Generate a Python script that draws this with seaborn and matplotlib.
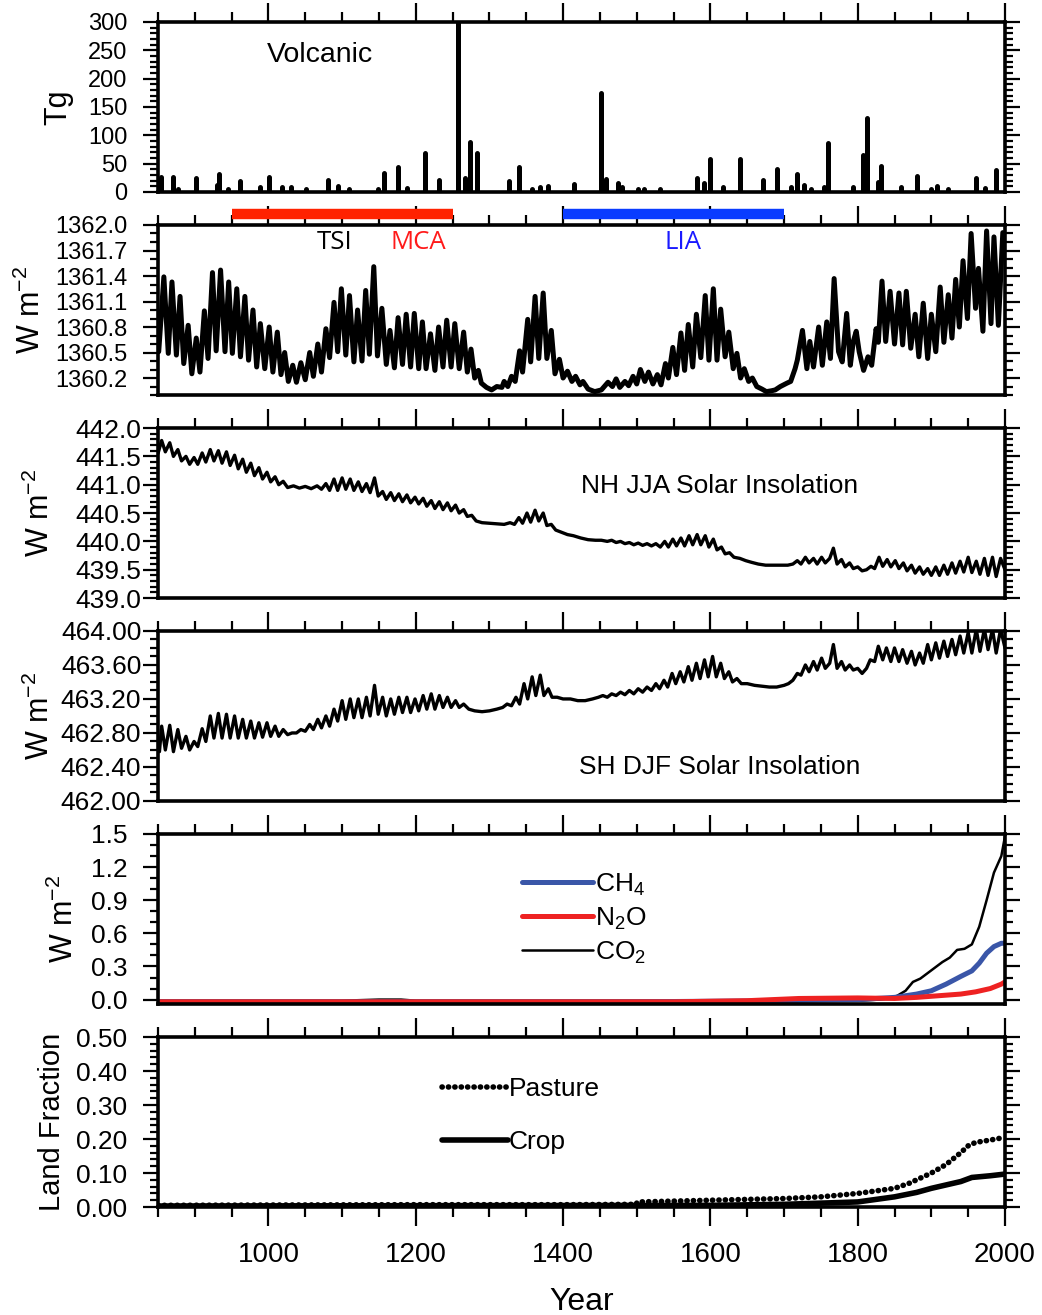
import numpy as np
import pandas as pd
import seaborn as sns
import matplotlib
matplotlib.use("Agg")
import matplotlib.pyplot as plt
from matplotlib.ticker import MultipleLocator, FixedLocator, FormatStrFormatter
from matplotlib.font_manager import FontProperties

# ---------------- data ----------------
volc_year = [854, 871, 877, 902, 930, 933, 945, 962, 988, 1001, 1018, 1030, 1051, 1081, 1094,
             1110, 1149, 1157, 1176, 1188, 1213, 1232, 1257, 1267, 1274, 1283, 1327, 1340, 1358,
             1369, 1380, 1415, 1451, 1458, 1475, 1480, 1502, 1510, 1532, 1582, 1591, 1599, 1617,
             1640, 1671, 1691, 1709, 1717, 1727, 1736, 1754, 1760, 1793, 1807, 1813, 1827, 1832,
             1859, 1881, 1900, 1908, 1922, 1960, 1973, 1988]
volc_tg = [27, 27, 6, 25, 12, 32, 5, 20, 9, 26, 9, 8, 5, 22, 10,
           6, 5, 33, 44, 7, 68, 22, 310, 24, 89, 68, 19, 44, 5,
           8, 10, 14, 175, 23, 15, 8, 5, 5, 6, 24, 15, 59, 9,
           58, 22, 40, 8, 31, 12, 6, 9, 87, 8, 65, 130, 18, 46,
           8, 28, 6, 10, 6, 24, 7, 38]

tsi_year = [851, 858, 864, 869, 875, 880, 885, 891, 896, 902, 907, 913, 918, 924, 929, 935, 941,
            946, 951, 957, 962, 968, 973, 979, 984, 989, 995, 1001, 1006, 1012, 1017, 1022, 1027,
            1033, 1038, 1044, 1050, 1056, 1061, 1067, 1072, 1078, 1083, 1089, 1094, 1099, 1105,
            1110, 1116, 1121, 1127, 1132, 1137, 1143, 1148, 1154, 1160, 1165, 1171, 1176, 1182,
            1187, 1193, 1198, 1204, 1209, 1214, 1220, 1226, 1231, 1237, 1242, 1248, 1253, 1259,
            1265, 1270, 1275, 1280, 1285, 1289, 1296, 1303, 1310, 1317, 1320, 1325, 1330, 1335,
            1341, 1345, 1352, 1356, 1362, 1367, 1373, 1378, 1384, 1389, 1395, 1400, 1406, 1412,
            1417, 1423, 1427, 1434, 1443, 1452, 1461, 1467, 1472, 1477, 1484, 1489, 1495, 1500,
            1505, 1511, 1516, 1522, 1528, 1533, 1539, 1543, 1549, 1554, 1560, 1565, 1570, 1576,
            1581, 1587, 1593, 1598, 1604, 1609, 1614, 1620, 1625, 1631, 1636, 1641, 1646, 1652,
            1657, 1663, 1670, 1676, 1683, 1688, 1695, 1704, 1709, 1715, 1718, 1725, 1731, 1735,
            1740, 1747, 1752, 1758, 1763, 1768, 1774, 1779, 1785, 1790, 1794, 1798, 1802, 1808,
            1814, 1819, 1825, 1828, 1833, 1838, 1844, 1850, 1856, 1861, 1866, 1872, 1878, 1883,
            1889, 1895, 1900, 1906, 1912, 1917, 1923, 1928, 1933, 1938, 1943, 1949, 1954, 1960,
            1964, 1970, 1975, 1981, 1985, 1991, 1997, 2000]
tsi_val = [1360.51, 1361.39, 1360.49, 1361.33, 1360.47, 1361.16, 1360.37, 1360.82, 1360.25,
           1360.67, 1360.27, 1360.99, 1360.43, 1361.44, 1360.52, 1361.47, 1360.51, 1361.33,
           1360.49, 1361.25, 1360.45, 1361.16, 1360.41, 1361.00, 1360.33, 1360.84, 1360.31,
           1360.80, 1360.27, 1360.74, 1360.24, 1360.50, 1360.16, 1360.35, 1360.15, 1360.38,
           1360.18, 1360.50, 1360.22, 1360.60, 1360.27, 1360.78, 1360.44, 1361.09, 1360.51,
           1361.25, 1360.47, 1361.17, 1360.39, 1361.00, 1360.40, 1361.23, 1360.48, 1361.51,
           1360.46, 1361.02, 1360.36, 1360.76, 1360.32, 1360.91, 1360.36, 1360.95, 1360.33,
           1360.96, 1360.31, 1360.86, 1360.31, 1360.72, 1360.29, 1360.80, 1360.33, 1360.88,
           1360.33, 1360.84, 1360.31, 1360.74, 1360.27, 1360.54, 1360.20, 1360.29, 1360.14,
           1360.09, 1360.06, 1360.10, 1360.09, 1360.16, 1360.10, 1360.22, 1360.16, 1360.52,
           1360.27, 1360.89, 1360.39, 1361.16, 1360.43, 1361.20, 1360.43, 1360.76, 1360.25,
           1360.42, 1360.20, 1360.28, 1360.16, 1360.22, 1360.12, 1360.16, 1360.07, 1360.04,
           1360.06, 1360.15, 1360.10, 1360.19, 1360.09, 1360.16, 1360.11, 1360.22, 1360.13,
           1360.30, 1360.16, 1360.27, 1360.13, 1360.24, 1360.12, 1360.37, 1360.20, 1360.56,
           1360.24, 1360.73, 1360.29, 1360.83, 1360.33, 1360.95, 1360.44, 1361.17, 1360.41,
           1361.25, 1360.41, 1361.01, 1360.45, 1360.74, 1360.31, 1360.49, 1360.20, 1360.31,
           1360.16, 1360.20, 1360.10, 1360.07, 1360.04, 1360.05, 1360.06, 1360.10, 1360.14,
           1360.16, 1360.31, 1360.41, 1360.76, 1360.31, 1360.63, 1360.33, 1360.80, 1360.35,
           1360.86, 1360.43, 1361.37, 1360.51, 1360.39, 1360.96, 1360.35, 1360.63, 1360.75,
           1360.51, 1360.29, 1360.45, 1360.35, 1360.78, 1360.62, 1361.34, 1360.63, 1361.22,
           1360.60, 1361.20, 1360.59, 1361.22, 1360.55, 1360.95, 1360.45, 1361.08, 1360.43,
           1360.95, 1360.51, 1361.27, 1360.62, 1361.18, 1360.67, 1361.36, 1360.80, 1361.58,
           1360.90, 1361.90, 1361.02, 1361.49, 1360.75, 1361.93, 1360.84, 1361.86, 1360.82,
           1361.91, 1361.90]

nh_year = [850, 855, 860, 866, 871, 877, 882, 888, 893, 899, 904, 910, 915, 921, 926, 932, 937,
           943, 948, 954, 959, 965, 970, 976, 981, 987, 992, 998, 1003, 1009, 1014, 1020, 1026,
           1034, 1042, 1050, 1058, 1066, 1072, 1078, 1083, 1089, 1094, 1100, 1105, 1111, 1116,
           1122, 1127, 1133, 1138, 1144, 1149, 1155, 1160, 1166, 1171, 1177, 1182, 1188, 1193,
           1199, 1204, 1210, 1215, 1221, 1226, 1232, 1237, 1243, 1248, 1254, 1259, 1265, 1270,
           1276, 1282, 1290, 1300, 1310, 1320, 1328, 1334, 1340, 1345, 1351, 1356, 1362, 1367,
           1373, 1378, 1384, 1390, 1398, 1406, 1414, 1424, 1434, 1444, 1452, 1460, 1466, 1472,
           1478, 1484, 1490, 1496, 1502, 1508, 1514, 1520, 1526, 1532, 1538, 1543, 1549, 1554,
           1560, 1565, 1571, 1576, 1582, 1587, 1593, 1598, 1604, 1609, 1615, 1620, 1626, 1632,
           1640, 1648, 1656, 1665, 1675, 1685, 1695, 1705, 1712, 1718, 1723, 1729, 1734, 1740,
           1745, 1751, 1756, 1762, 1767, 1772, 1778, 1783, 1789, 1794, 1800, 1806, 1812, 1818,
           1823, 1829, 1834, 1840, 1845, 1851, 1856, 1862, 1867, 1873, 1878, 1884, 1889, 1895,
           1900, 1906, 1911, 1917, 1922, 1928, 1933, 1939, 1944, 1950, 1955, 1961, 1966, 1972,
           1977, 1983, 1988, 1994, 2000]
nh_val = [441.55, 441.78, 441.58, 441.74, 441.50, 441.62, 441.42, 441.50, 441.36, 441.48, 441.36,
          441.56, 441.40, 441.62, 441.42, 441.60, 441.38, 441.58, 441.34, 441.52, 441.28, 441.45,
          441.22, 441.38, 441.16, 441.30, 441.10, 441.22, 441.05, 441.14, 441.00, 441.06, 440.95,
          440.98, 440.94, 440.97, 440.93, 440.98, 440.92, 441.02, 440.90, 441.10, 440.90, 441.12,
          440.92, 441.10, 440.90, 441.05, 440.88, 441.02, 440.86, 441.12, 440.80, 440.88, 440.74,
          440.86, 440.72, 440.84, 440.70, 440.82, 440.68, 440.78, 440.66, 440.76, 440.62, 440.72,
          440.58, 440.70, 440.56, 440.68, 440.54, 440.64, 440.50, 440.56, 440.44, 440.46, 440.36,
          440.33, 440.32, 440.31, 440.30, 440.33, 440.30, 440.42, 440.32, 440.50, 440.34, 440.55,
          440.36, 440.50, 440.28, 440.30, 440.20, 440.16, 440.12, 440.10, 440.06, 440.03, 440.02,
          440.02, 440.00, 440.02, 439.98, 440.00, 439.96, 439.98, 439.94, 439.97, 439.93, 439.96,
          439.92, 439.96, 439.90, 440.00, 439.90, 440.04, 439.92, 440.06, 439.92, 440.10, 439.94,
          440.12, 439.94, 440.10, 439.90, 440.04, 439.85, 439.90, 439.78, 439.80, 439.72, 439.70,
          439.66, 439.63, 439.60, 439.58, 439.58, 439.58, 439.58, 439.60, 439.66, 439.60, 439.72,
          439.62, 439.70, 439.60, 439.72, 439.62, 439.70, 439.88, 439.60, 439.68, 439.55, 439.62,
          439.52, 439.55, 439.48, 439.50, 439.56, 439.52, 439.72, 439.56, 439.68, 439.55, 439.66,
          439.52, 439.62, 439.48, 439.58, 439.44, 439.55, 439.42, 439.52, 439.40, 439.55, 439.40,
          439.58, 439.42, 439.62, 439.44, 439.65, 439.46, 439.72, 439.45, 439.65, 439.42, 439.70,
          439.40, 439.72, 439.38, 439.70, 439.50]

sh_year = [850, 852, 855, 860, 866, 871, 877, 882, 888, 893, 899, 904, 910, 915, 921, 926, 932,
           937, 943, 948, 954, 959, 965, 970, 976, 981, 987, 992, 998, 1003, 1009, 1014, 1020,
           1026, 1032, 1038, 1044, 1050, 1056, 1061, 1067, 1072, 1078, 1083, 1089, 1094, 1100,
           1105, 1111, 1116, 1122, 1127, 1133, 1138, 1144, 1149, 1155, 1160, 1166, 1171, 1177,
           1182, 1188, 1193, 1199, 1204, 1210, 1215, 1221, 1226, 1232, 1237, 1243, 1248, 1254,
           1259, 1265, 1272, 1280, 1290, 1300, 1310, 1318, 1324, 1330, 1336, 1341, 1347, 1352,
           1358, 1363, 1369, 1374, 1380, 1385, 1392, 1400, 1410, 1420, 1430, 1440, 1448, 1454,
           1460, 1466, 1472, 1478, 1484, 1490, 1496, 1502, 1508, 1514, 1520, 1526, 1531, 1537,
           1542, 1548, 1553, 1559, 1564, 1570, 1575, 1581, 1586, 1592, 1597, 1603, 1608, 1614,
           1619, 1625, 1630, 1636, 1642, 1650, 1660, 1670, 1680, 1690, 1700, 1706, 1712, 1718,
           1723, 1729, 1734, 1740, 1745, 1751, 1756, 1762, 1767, 1772, 1778, 1783, 1789, 1794,
           1800, 1806, 1812, 1817, 1823, 1828, 1834, 1839, 1845, 1850, 1856, 1861, 1867, 1873,
           1878, 1884, 1889, 1895, 1900, 1906, 1911, 1917, 1922, 1928, 1933, 1939, 1944, 1950,
           1955, 1961, 1966, 1972, 1977, 1983, 1988, 1994, 2000]
sh_val = [462.60, 462.58, 462.88, 462.60, 462.89, 462.58, 462.84, 462.62, 462.76, 462.60, 462.70,
          462.64, 462.85, 462.70, 463.00, 462.74, 463.03, 462.74, 463.02, 462.74, 463.00, 462.74,
          462.96, 462.74, 462.94, 462.74, 462.92, 462.75, 462.92, 462.76, 462.88, 462.76, 462.84,
          462.78, 462.80, 462.80, 462.84, 462.82, 462.90, 462.84, 462.96, 462.86, 463.00, 462.88,
          463.08, 462.94, 463.18, 462.96, 463.20, 462.98, 463.20, 462.98, 463.22, 463.00, 463.36,
          463.02, 463.22, 463.00, 463.20, 463.02, 463.22, 463.04, 463.22, 463.04, 463.20, 463.06,
          463.24, 463.08, 463.26, 463.08, 463.24, 463.10, 463.22, 463.10, 463.18, 463.10, 463.14,
          463.08, 463.06, 463.05, 463.06, 463.08, 463.10, 463.14, 463.12, 463.22, 463.14, 463.38,
          463.20, 463.46, 463.24, 463.48, 463.24, 463.32, 463.22, 463.22, 463.20, 463.20, 463.18,
          463.18, 463.20, 463.22, 463.24, 463.22, 463.26, 463.24, 463.28, 463.25, 463.30, 463.26,
          463.32, 463.28, 463.34, 463.30, 463.38, 463.32, 463.42, 463.34, 463.50, 463.38, 463.52,
          463.40, 463.58, 463.42, 463.62, 463.44, 463.66, 463.46, 463.70, 463.46, 463.62, 463.44,
          463.52, 463.40, 463.44, 463.38, 463.38, 463.36, 463.35, 463.34, 463.34, 463.36, 463.38,
          463.42, 463.50, 463.48, 463.60, 463.52, 463.64, 463.54, 463.68, 463.56, 463.62, 463.84,
          463.56, 463.64, 463.54, 463.60, 463.54, 463.56, 463.50, 463.56, 463.66, 463.64, 463.82,
          463.66, 463.80, 463.64, 463.80, 463.64, 463.78, 463.62, 463.76, 463.60, 463.74, 463.62,
          463.84, 463.66, 463.86, 463.68, 463.88, 463.70, 463.90, 463.72, 463.94, 463.74, 463.98,
          463.74, 464.02, 463.76, 464.02, 463.78, 464.02, 463.74, 464.02, 463.80]

co2_year = [850, 1100, 1150, 1180, 1200, 1400, 1600, 1800, 1830, 1850, 1865, 1875, 1885, 1895,
            1905, 1915, 1925, 1935, 1945, 1955, 1965, 1975, 1985, 1995, 2000]
co2_val = [-0.01, -0.01, 0.0, 0.0, -0.01, -0.01, -0.01, -0.01, 0.0, 0.02, 0.08, 0.16, 0.19, 0.24,
           0.29, 0.34, 0.38, 0.45, 0.46, 0.50, 0.66, 0.90, 1.15, 1.30, 1.48]
ch4_year = [850, 1500, 1700, 1800, 1850, 1880, 1900, 1920, 1940, 1955, 1965, 1975, 1985, 1995, 2000]
ch4_val = [-0.02, -0.02, -0.01, 0.0, 0.02, 0.05, 0.08, 0.14, 0.21, 0.26, 0.33, 0.42, 0.48, 0.51, 0.51]
n2o_year = [850, 1550, 1650, 1720, 1800, 1850, 1880, 1910, 1940, 1960, 1980, 1995, 2000]
n2o_val = [-0.02, -0.02, -0.01, 0.01, 0.015, 0.01, 0.02, 0.035, 0.05, 0.07, 0.10, 0.14, 0.16]

pasture_year = [850, 1000, 1200, 1400, 1499, 1501, 1600, 1700, 1750, 1800, 1850, 1870, 1885,
                1900, 1920, 1940, 1950, 1960, 1980, 2000]
pasture_val = [0.005, 0.006, 0.007, 0.007, 0.008, 0.015, 0.02, 0.025, 0.03, 0.04, 0.055, 0.07,
               0.085, 0.10, 0.125, 0.16, 0.18, 0.19, 0.197, 0.205]
crop_year = [850, 1200, 1600, 1700, 1800, 1850, 1880, 1900, 1920, 1940, 1955, 1980, 2000]
crop_val = [0.003, 0.004, 0.005, 0.008, 0.015, 0.03, 0.043, 0.055, 0.065, 0.075, 0.087, 0.092, 0.097]

mca_span = [950, 1250]
lia_span = [1400, 1700]

ticks_tsi = [1360.2, 1360.5, 1360.8, 1361.1, 1361.4, 1361.7, 1362.0]
ticks_year = [1000, 1200, 1400, 1600, 1800, 2000]

# ---------------- style ----------------
sns.set_style("ticks")
plt.rcParams["font.family"] = ["Liberation Sans", "DejaVu Sans"]
plt.rcParams["mathtext.default"] = "regular"
for k in ["text.color", "axes.labelcolor", "xtick.color", "ytick.color", "axes.edgecolor"]:
    plt.rcParams[k] = "black"
narrow = ["Liberation Sans Narrow", "Liberation Sans", "DejaVu Sans"]
label_font = ["Open Sans", "Liberation Sans"]

fig = plt.figure(figsize=(10.42, 13.15), dpi=100)
bottoms = [0.854, 0.6996, 0.5452, 0.3909, 0.2365, 0.0821]
axes = [fig.add_axes([0.1516, b, 0.8129, 0.1293]) for b in bottoms]


def frame(ax, ylim, major, minor, fmt, pad, lab_font, labsize):
    ax.set_xlim(850, 2000)
    ax.set_ylim(*ylim)
    ax.xaxis.set_major_locator(FixedLocator(ticks_year))
    ax.xaxis.set_minor_locator(MultipleLocator(50))
    if isinstance(major, list):
        ax.yaxis.set_major_locator(FixedLocator(major))
    else:
        ax.yaxis.set_major_locator(MultipleLocator(major))
    ax.yaxis.set_minor_locator(MultipleLocator(minor))
    ax.yaxis.set_major_formatter(FormatStrFormatter(fmt))
    ax.tick_params(axis="x", which="both", direction="out", top=True, bottom=False,
                   labelbottom=False, width=1.6)
    ax.tick_params(axis="x", which="major", length=14)
    ax.tick_params(axis="x", which="minor", length=7)
    ax.tick_params(axis="y", which="both", direction="out", left=True, right=True, width=1.6)
    ax.tick_params(axis="y", which="major", length=11, pad=pad)
    ax.tick_params(axis="y", which="minor", length=5.5)
    for t in ax.get_yticklabels():
        t.set_fontfamily(lab_font)
        t.set_fontsize(labsize)
    for s in ax.spines.values():
        s.set_linewidth(2.6)
        s.set_visible(True)
    ax.set_xlabel("")


# panel 1: volcanic
ax = axes[0]
ax.vlines(volc_year, 0, volc_tg, color="black", lw=3.6, capstyle="round")
frame(ax, (0, 300), 50, 10, "%d", 11, ["Liberation Sans"], 17)
ax.text(1070, 242, "Volcanic", fontsize=20.5, ha="center", va="center")
ax.set_ylabel("Tg", fontsize=22)
ax.yaxis.set_label_coords(-0.10, 0.5)

# panel 2: TSI
ax = axes[1]
sns.lineplot(x=tsi_year, y=tsi_val, ax=ax, color="black", lw=3.6, sort=False,
             solid_joinstyle="round")
frame(ax, (1360.0, 1362.0), ticks_tsi, 0.1, "%.1f", 11, ["Liberation Sans"], 17)
ax.plot(mca_span, [1362.13, 1362.13], color="#ff2200", lw=7.5, solid_capstyle="butt", clip_on=False)
ax.plot(lia_span, [1362.13, 1362.13], color="#0a3cff", lw=7.5, solid_capstyle="butt", clip_on=False)
ax.text(1090, 1361.79, "TSI", fontsize=18.5, ha="center", va="center", family=label_font)
ax.text(1203, 1361.79, "MCA", fontsize=18.5, ha="center", va="center", color="#ff1a1a",
        family=label_font)
ax.text(1563, 1361.79, "LIA", fontsize=18.5, ha="center", va="center", color="#1a1aff",
        family=label_font)
ax.set_ylabel("W m$^{-2}$", fontsize=22)
ax.yaxis.set_label_coords(-0.131, 0.5)

# panel 3: NH JJA insolation
ax = axes[2]
sns.lineplot(x=nh_year, y=nh_val, ax=ax, color="black", lw=2.4, sort=False)
frame(ax, (439.0, 442.0), 0.5, 0.1, "%.1f", 1, narrow, 19)
ax.text(1613, 440.98, "NH JJA Solar Insolation", fontsize=19, ha="center", va="center",
        family=narrow)
ax.set_ylabel("W m$^{-2}$", fontsize=22)
ax.yaxis.set_label_coords(-0.12, 0.5)

# panel 4: SH DJF insolation
ax = axes[3]
sns.lineplot(x=sh_year, y=sh_val, ax=ax, color="black", lw=2.4, sort=False)
frame(ax, (462.0, 464.0), 0.4, 0.1, "%.2f", 1, narrow, 19)
ax.text(1613, 462.4, "SH DJF Solar Insolation", fontsize=19, ha="center", va="center",
        family=narrow)
ax.set_ylabel("W m$^{-2}$", fontsize=22)
ax.yaxis.set_label_coords(-0.12, 0.5)

# panel 5: greenhouse gases
ax = axes[4]
sns.lineplot(x=co2_year, y=co2_val, ax=ax, color="black", lw=1.8, label="CO$_2$")
sns.lineplot(x=ch4_year, y=ch4_val, ax=ax, color="#3a56a8", lw=3.6, label="CH$_4$")
sns.lineplot(x=n2o_year, y=n2o_val, ax=ax, color="#ee2222", lw=3.6, label="N$_2$O")
frame(ax, (-0.04, 1.5), 0.3, 0.1, "%.1f", 11, narrow, 19)
h = ax.get_legend_handles_labels()[0]
ax.legend(handles=[h[1], h[2], h[0]], loc="upper left", bbox_to_anchor=(0.43, 0.78),
          frameon=False, handlelength=2.7, handletextpad=0.05, labelspacing=0.3,
          borderpad=0, borderaxespad=0, prop=FontProperties(family=narrow, size=19))
ax.set_ylabel("W m$^{-2}$", fontsize=22)
ax.yaxis.set_label_coords(-0.092, 0.5)

# panel 6: land use
ax = axes[5]
sns.lineplot(x=pasture_year, y=pasture_val, ax=ax, color="black", lw=4.0,
             linestyle=(0, (0.05, 1.1)), dash_capstyle="round", label="Pasture")
sns.lineplot(x=crop_year, y=crop_val, ax=ax, color="black", lw=4.0, label="Crop")
frame(ax, (0.0, 0.5), 0.1, 0.02, "%.2f", 11, narrow, 19)
ax.tick_params(axis="x", which="both", bottom=True, labelbottom=True)
ax.tick_params(axis="x", which="major", pad=11)
for t in ax.get_xticklabels():
    t.set_fontfamily(narrow)
    t.set_fontsize(20)
ax.legend(loc="upper left", bbox_to_anchor=(0.335, 0.765), frameon=False, handlelength=2.5,
          handletextpad=0.05, labelspacing=1.1, borderpad=0, borderaxespad=0,
          prop=FontProperties(family=narrow, size=19))
ax.set_ylabel("Land Fraction", fontsize=21)
ax.yaxis.set_label_coords(-0.109, 0.5)
ax.set_xlabel("Year", fontsize=23, family=narrow, labelpad=14)

fig.savefig("out.png", dpi=100)
plt.close(fig)
